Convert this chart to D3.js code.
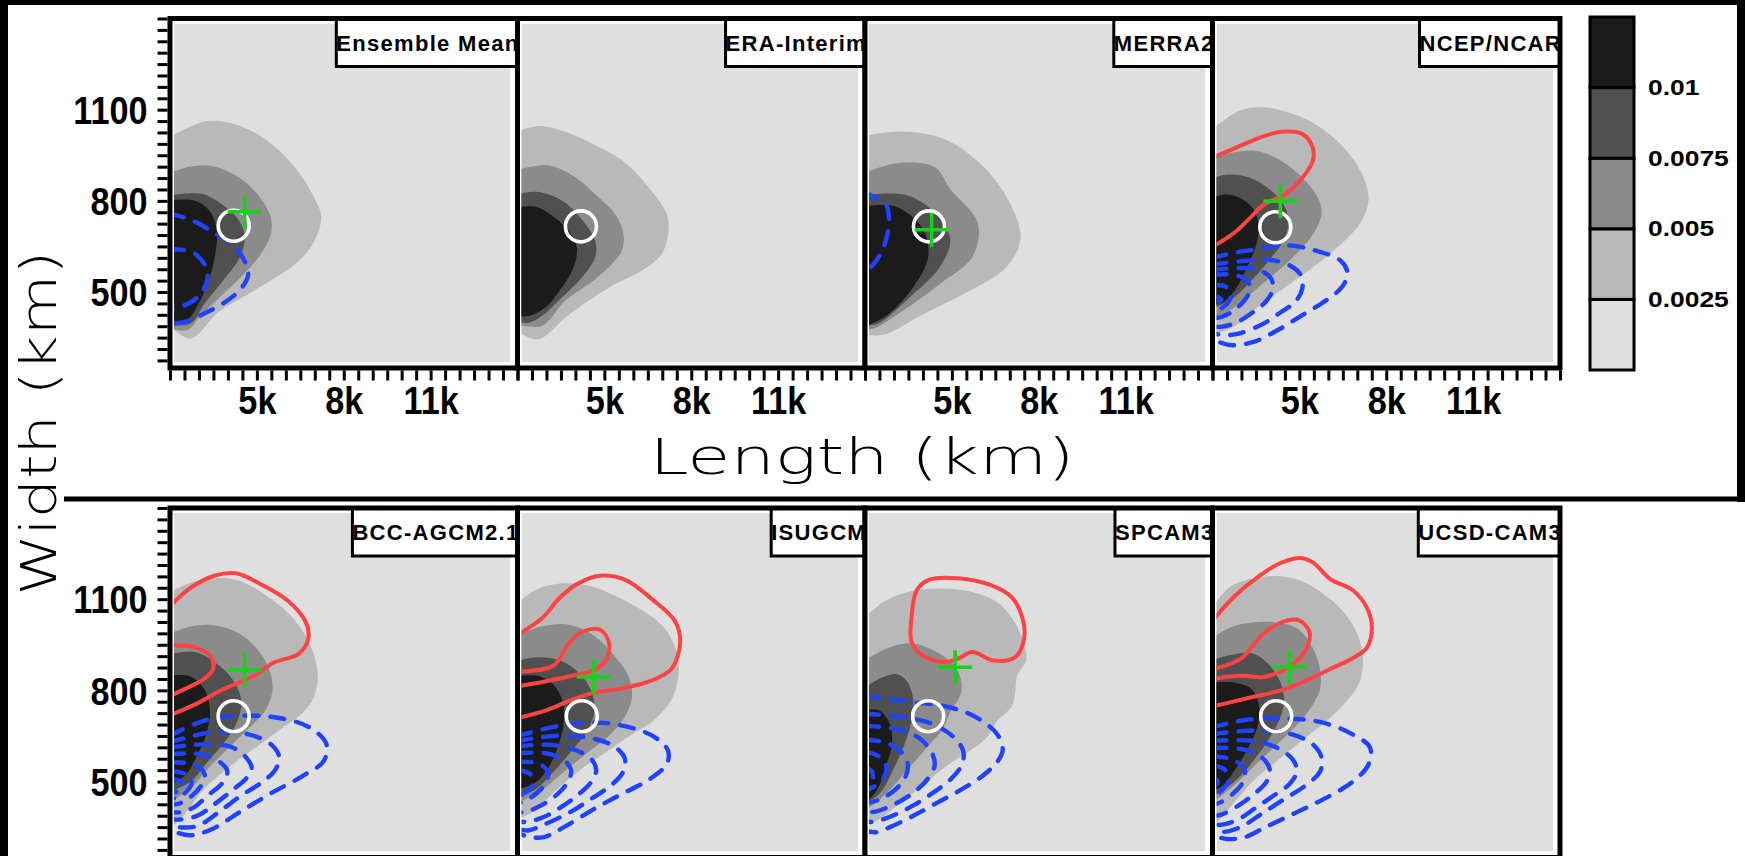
<!DOCTYPE html>
<html><head><meta charset="utf-8">
<script src="https://cdn.jsdelivr.net/npm/d3@7"></script>
<style>
html,body{margin:0;padding:0;background:#fff;}
svg{display:block;}
</style></head><body>
<svg id="fig" width="1745" height="856"></svg>
<script>
// ---------- axes, levels, names ----------
const lengthDomain = [2000, 14000];          // km
const widthDomain = [250, 1400];             // km
const lengthTickLabels = [5000, 8000, 11000];
const widthTickLabels = [500, 800, 1100];
const shadeLevels = [0.0025, 0.005, 0.0075, 0.01];
const shadeColors = ["#dfdfdf", "#b9b9b9", "#8b8b8b", "#505050", "#1b1b1b"];
const panelNames = ["Ensemble Mean", "ERA-Interim", "MERRA2", "NCEP/NCAR",
                    "BCC-AGCM2.1", "ISUGCM", "SPCAM3", "UCSD-CAM3"];

// ---------- Ensemble Mean ----------
const ensembleShade = [
  [[2000,1009],[3200,1061],[4220,1053],[5360,998],[6320,909],[6920,821],[7220,749],[6980,667],[6440,601],[5600,545],[4640,490],[3680,435],[2720,347],[2000,386]],
  [[2000,893],[2720,913],[3440,915],[4400,876],[5120,810],[5480,744],[5480,689],[5120,623],[4520,557],[3800,490],[3080,424],[2600,375],[2000,380]],
  [[2000,818],[3080,823],[3800,788],[4400,733],[4580,678],[4400,612],[3800,534],[3200,463],[2720,397],[2000,391]],
  [[2000,801],[2840,801],[3380,766],[3620,700],[3560,623],[3320,534],[2960,457],[2540,402],[2000,389]]
];
const ensemblePositive = [];
const ensembleNegative = [
  [[2000,757],[2720,738],[3440,700],[4160,656],[4580,601],[4700,557],[4460,512],[3920,468],[3200,430],[2540,402],[2000,397]],
  [[2000,639],[2720,634],[3200,590],[3296,545],[3080,496],[2660,463],[2000,441]]
];

// ---------- ERA-Interim ----------
const eraShade = [
  [[2000,1027],[2725,1046],[3645,1027],[4566,989],[5601,934],[6521,845],[7154,757],[7212,702],[6982,625],[6291,570],[5371,526],[4451,471],[3645,415],[2725,344],[2000,371]],
  [[2000,901],[3070,917],[3990,878],[4796,812],[5371,757],[5659,691],[5601,636],[5141,581],[4451,526],[3645,471],[2840,388],[2000,393]],
  [[2000,823],[2725,829],[3530,801],[4105,752],[4681,669],[4681,614],[4220,548],[3530,482],[2840,421],[2380,399],[2000,402]],
  [[2000,779],[2610,781],[3185,752],[3760,702],[4048,647],[3933,581],[3530,515],[2955,448],[2380,421],[2000,421]]
];
const eraPositive = [];
const eraNegative = [];

// ---------- MERRA2 ----------
const merraShade = [
  [[2000,1014],[3224,1028],[4758,1003],[6103,911],[7058,782],[7368,673],[6862,580],[5519,499],[3990,426],[2645,359],[2000,359]],
  [[2000,893],[3200,925],[4407,911],[4948,838],[5896,727],[5717,617],[4565,525],[3224,433],[2262,379],[2000,379]],
  [[2000,819],[3414,819],[4372,764],[4948,673],[4565,580],[3607,488],[2448,396],[2000,390]],
  [[2000,782],[3031,782],[3990,709],[4183,617],[3607,508],[2645,415],[2000,389]]
];
const merraPositive = [];
const merraNegative = [
  [[2000,830],[2200,818],[2700,791],[2830,736],[2650,650],[2250,587],[2000,575]]
];

// ---------- NCEP/NCAR ----------
const ncepShade = [
  [[2000,1036],[2938,1097],[3719,1108],[4620,1091],[5462,1058],[6303,998],[6904,931],[7265,865],[7385,799],[7145,733],[6544,667],[5582,590],[4620,523],[3659,457],[2817,391],[2000,358]],
  [[2000,942],[2697,959],[3539,964],[4380,931],[5101,876],[5642,810],[5762,755],[5462,689],[4981,634],[4380,579],[3539,512],[2697,446],[2000,413]],
  [[2000,876],[2577,887],[3298,876],[3899,843],[4380,799],[4620,744],[4500,678],[4019,612],[3418,545],[2697,479],[2000,446]],
  [[2000,810],[2457,821],[2938,810],[3418,772],[3599,711],[3478,645],[3178,579],[2817,512],[2397,468],[2000,457]]
];
const ncepPositive = [
  [[2000,942],[2697,970],[3659,1009],[4380,1027],[5101,1020],[5462,975],[5462,931],[5101,876],[4500,821],[3779,788],[3298,744],[2817,700],[2216,661],[2000,650]]
];
const ncepNegative = [
  [[2000,612],[2697,628],[3418,639],[4500,654],[5582,636],[6423,603],[6664,562],[6484,518],[5943,474],[5101,424],[4260,375],[3418,336],[2697,325],[2216,336],[2000,347]],
  [[2000,590],[2938,601],[3899,606],[4620,590],[5041,557],[5101,512],[4861,468],[4380,435],[3779,397],[2938,364],[2457,358],[2000,364]],
  [[2000,573],[2938,579],[3599,573],[4019,545],[4079,507],[3839,468],[3418,435],[2877,402],[2337,386],[2000,386]],
  [[2000,557],[2697,557],[3178,540],[3298,507],[3118,474],[2757,441],[2337,419],[2000,413]],
  [[2000,523],[2457,518],[2637,490],[2517,463],[2216,441],[2000,435]],
  [[2000,490],[2313,476],[2000,459]]
];

// ---------- BCC-AGCM2.1 ----------
const bccShade = [
  [[2000,1122],[2720,1155],[3680,1170],[4400,1161],[5360,1110],[6200,1043],[6800,959],[7100,858],[6980,780],[6560,724],[5840,674],[5120,623],[4160,556],[3200,478],[2400,380],[2000,345]],
  [[2000,987],[2720,1010],[3440,1015],[4280,993],[5000,937],[5420,870],[5540,802],[5300,735],[4760,679],[4160,623],[3440,556],[2720,478],[2000,433]],
  [[2000,920],[2840,926],[3560,892],[4160,836],[4460,769],[4340,702],[3920,634],[3320,567],[2720,500],[2000,466]],
  [[2000,849],[2720,845],[3200,802],[3380,735],[3260,657],[2960,590],[2540,522],[2000,489]]
];
const bccPositive = [
  [[2000,1077],[2720,1138],[3560,1178],[4280,1185],[5120,1150],[6080,1094],[6680,1026],[6776,970],[6440,920],[5600,892],[4880,847],[3800,802],[2960,758],[2000,718]],
  [[2000,948],[2840,942],[3380,914],[3500,875],[3200,839],[2720,814],[2000,782]]
];
const bccNegative = [
  [[2000,651],[2960,693],[3680,711],[5480,713],[6800,679],[7400,623],[7304,567],[6560,517],[5480,461],[4400,399],[3440,343],[2720,323],[2240,332],[2000,343]],
  [[2000,629],[3440,662],[4640,657],[5480,623],[5780,578],[5600,534],[5120,494],[4400,450],[3680,399],[2960,354],[2360,349],[2000,354]],
  [[2000,612],[3320,623],[4160,612],[4640,578],[4820,545],[4640,511],[4160,472],[3560,427],[2960,388],[2360,375],[2000,377]],
  [[2000,590],[3080,590],[3680,567],[3980,534],[3800,494],[3320,455],[2840,416],[2360,399],[2000,399]],
  [[2000,562],[2840,556],[3200,522],[3080,487],[2720,450],[2300,427],[2000,424]],
  [[2000,534],[2600,522],[2744,494],[2540,464],[2240,446],[2000,444]],
  [[2000,511],[2420,497],[2384,472],[2000,464]]
];

// ---------- ISUGCM ----------
const isuShade = [
  [[2000,1085],[2618,1130],[3606,1152],[4594,1141],[5458,1107],[6323,1062],[7064,1006],[7496,926],[7558,847],[7311,768],[6693,700],[5952,655],[5088,599],[4223,542],[3359,474],[2618,407],[2000,373]],
  [[2000,983],[2865,1011],[3729,1017],[4594,983],[5335,915],[5829,847],[5952,779],[5705,712],[5211,655],[4470,599],[3729,542],[2865,474],[2000,429]],
  [[2000,898],[2741,909],[3482,898],[4100,859],[4532,802],[4655,734],[4408,667],[3853,599],[3235,531],[2618,474],[2000,452]],
  [[2000,847],[2741,847],[3235,819],[3544,768],[3606,700],[3420,621],[3112,553],[2618,497],[2000,474]]
];
const isuPositive = [
  [[2000,983],[2865,1039],[3482,1107],[4100,1152],[4841,1177],[5705,1164],[6693,1096],[7434,1028],[7619,960],[7311,870],[6570,830],[5458,804],[4594,791],[3853,768],[2988,734],[2000,709]],
  [[2000,861],[3235,881],[3729,949],[4223,992],[4841,1000],[5149,960],[5088,904],[4717,870],[3853,847],[2988,830],[2000,813]]
];
const isuNegative = [
  [[2000,650],[3606,686],[5088,692],[6570,655],[7187,604],[7162,559],[6570,508],[5458,452],[4594,407],[3606,350],[2865,316],[2247,322],[2000,333]],
  [[2000,633],[3235,650],[4470,644],[5335,616],[5705,576],[5643,531],[5211,486],[4594,446],[3853,401],[2865,356],[2371,339],[2000,344]],
  [[2000,616],[3112,621],[3976,604],[4532,576],[4717,537],[4532,497],[4100,457],[3544,418],[2926,384],[2309,367],[2000,370]],
  [[2000,593],[2988,593],[3606,570],[3853,537],[3729,497],[3359,457],[2865,424],[2309,401],[2000,398]],
  [[2000,565],[2741,559],[3050,531],[2988,497],[2680,463],[2247,435],[2000,429]],
  [[2000,537],[2433,525],[2556,497],[2371,469],[2000,452]]
];

// ---------- SPCAM3 ----------
const spcamShade = [
  [[2000,1039],[2618,1090],[3482,1124],[4594,1135],[5705,1124],[6570,1090],[7064,1039],[7434,972],[7558,898],[7249,847],[7187,791],[7064,746],[6570,700],[6199,644],[5582,599],[4841,553],[4100,497],[3359,440],[2618,384],[2000,350]],
  [[2000,898],[2741,938],[3606,955],[4470,926],[5088,881],[5335,825],[5273,779],[4964,734],[4717,678],[4223,621],[3606,554],[2988,486],[2371,429],[2000,407]],
  [[2000,808],[2494,838],[3112,853],[3482,825],[3667,768],[3606,700],[3359,621],[2988,542],[2618,474],[2247,440],[2000,429]],
  [[2000,734],[2494,734],[2865,689],[2926,621],[2741,554],[2494,486],[2185,446],[2000,441]]
];
const spcamPositive = [
  [[3606,1039],[3791,1130],[4223,1164],[5211,1169],[6323,1147],[7064,1107],[7434,1039],[7496,972],[7187,909],[6446,898],[5705,926],[5211,904],[4717,893],[3976,915],[3606,960]]
];
const spcamNegative = [
  [[2000,782],[3482,763],[4841,746],[5829,712],[6570,655],[6755,604],[6570,565],[6076,520],[5335,474],[4470,429],[3606,384],[2865,350],[2371,333],[2000,339]],
  [[2000,723],[3359,712],[4347,689],[5088,644],[5397,599],[5335,554],[4964,508],[4347,463],[3606,418],[2865,384],[2247,367],[2000,370]],
  [[2000,683],[3112,672],[3853,644],[4285,599],[4408,554],[4161,508],[3667,463],[2988,424],[2371,401],[2000,401]],
  [[2000,638],[2741,627],[3235,599],[3482,554],[3359,508],[2988,469],[2494,440],[2000,429]],
  [[2000,599],[2494,582],[2741,548],[2618,508],[2247,480],[2000,469]],
  [[2000,548],[2247,531],[2247,503],[2000,491]]
];

// ---------- UCSD-CAM3 ----------
const ucsdShade = [
  [[2000,1074],[2619,1142],[3484,1170],[4227,1176],[5093,1159],[5958,1108],[6577,1052],[7010,984],[7195,905],[7072,826],[6577,758],[5958,701],[5216,645],[4350,577],[3484,509],[2742,430],[2124,362],[2000,351]],
  [[2000,973],[2619,1007],[3361,1023],[4227,1023],[4969,1001],[5464,939],[5711,871],[5711,803],[5340,735],[4845,679],[4227,622],[3484,555],[2742,487],[2000,430]],
  [[2000,899],[2619,916],[3361,922],[3979,882],[4350,826],[4474,769],[4350,713],[3979,645],[3484,577],[2866,509],[2247,464],[2000,453]],
  [[2000,826],[2742,826],[3361,803],[3608,747],[3546,679],[3237,611],[2804,543],[2371,487],[2000,470]]
];
const ucsdPositive = [
  [[2000,1029],[2742,1108],[3608,1176],[4350,1219],[5093,1235],[5464,1221],[6082,1165],[6824,1131],[7319,1074],[7505,1007],[7319,939],[6824,905],[6082,871],[5340,837],[4474,803],[3237,775],[2495,758],[2000,747]],
  [[2000,869],[2990,905],[3732,984],[4474,1027],[4969,1031],[5340,995],[5278,944],[4845,891],[4350,862],[3732,843],[3113,848],[2495,845],[2000,837]]
];
const ucsdNegative = [
  [[2000,679],[3237,704],[4474,707],[5711,696],[6824,656],[7443,611],[7381,555],[6824,498],[5835,442],[4845,396],[3856,351],[3113,317],[2495,311],[2000,323]],
  [[2000,656],[3484,668],[4721,656],[5464,622],[5773,577],[5711,532],[5216,487],[4474,442],[3732,396],[2990,351],[2371,334],[2000,340]],
  [[2000,634],[3361,634],[4227,611],[4783,571],[4907,532],[4660,492],[4103,453],[3484,413],[2866,374],[2247,357],[2000,360]],
  [[2000,611],[3113,605],[3732,577],[3979,538],[3856,498],[3423,458],[2866,419],[2309,391],[2000,387]],
  [[2000,583],[2742,571],[3113,537],[3051,498],[2680,458],[2247,430],[2000,425]],
  [[2000,555],[2433,538],[2557,504],[2309,470],[2000,453]],
  [[2000,521],[2185,498],[2000,481]]
];

// observed centroid (white circle) and model centroid (green cross), [length, width] km
const observedCentroids = [[4200,718],[4190,716],[4210,716],[4170,713],[4196,715],[4220,715],[4180,715],[4200,715]];
const modelCentroids = [[4580,764], null, [4300,705], [4344,799], [4580,867], [4631,844], [5112,876], [4660,877]];

const panels = panelNames.map((name, i) => ({
  name,
  shade: [ensembleShade, eraShade, merraShade, ncepShade, bccShade, isuShade, spcamShade, ucsdShade][i],
  positive: [ensemblePositive, eraPositive, merraPositive, ncepPositive, bccPositive, isuPositive, spcamPositive, ucsdPositive][i],
  negative: [ensembleNegative, eraNegative, merraNegative, ncepNegative, bccNegative, isuNegative, spcamNegative, ucsdNegative][i],
  obs: observedCentroids[i],
  model: modelCentroids[i]
}));

// ---------- layout ----------
const W = 1745, H = 856;
const PANEL_LEFT = 170, PANEL_W = 347.5, PANEL_H = 349.5;
const ROW_TOP = [18.5, 508];
const TICK_FONT = "'Liberation Sans', Arial, sans-serif";

const svg = d3.select("#fig");
const defs = svg.append("defs");

// outer black margins and row separator
svg.append("rect").attr("x", 0).attr("y", 0).attr("width", W).attr("height", 5).attr("fill", "#000");
svg.append("rect").attr("x", 0).attr("y", 0).attr("width", 8).attr("height", H).attr("fill", "#000");
svg.append("rect").attr("x", W - 8).attr("y", 0).attr("width", 8).attr("height", 502).attr("fill", "#000");
svg.append("rect").attr("x", 64).attr("y", 496.5).attr("width", W - 64).attr("height", 5).attr("fill", "#000");

function squeeze(sel, factor) {
  sel.each(function () {
    const len = this.getComputedTextLength();
    d3.select(this).attr("textLength", len * factor).attr("lengthAdjust", "spacingAndGlyphs");
  });
}

const widthTicks = d3.range(widthDomain[1], widthDomain[0], -37.5);
const lengthTicks = d3.range(lengthDomain[0], lengthDomain[1] + 1, 500);

const openCurve = d3.curveCatmullRom.alpha(0.5);
const closedCurve = d3.curveCatmullRomClosed.alpha(0.5);

panels.forEach((p, i) => {
  const col = i % 4, row = Math.floor(i / 4);
  const bx = PANEL_LEFT + col * PANEL_W, by = ROW_TOP[row];
  const x = d3.scaleLinear().domain(lengthDomain).range([bx, bx + PANEL_W]);
  const y = d3.scaleLinear().domain(widthDomain).range([by + PANEL_H, by]);
  const g = svg.append("g");

  g.append("rect").attr("x", bx).attr("y", by).attr("width", PANEL_W).attr("height", PANEL_H).attr("fill", "#fff");

  const inner = { x: bx + 4, y: by + 5, w: PANEL_W - 11, h: PANEL_H - 11 };
  defs.append("clipPath").attr("id", "plot" + i).append("rect")
    .attr("x", inner.x).attr("y", inner.y).attr("width", inner.w).attr("height", inner.h);
  const plot = g.append("g").attr("clip-path", `url(#plot${i})`);
  plot.append("rect").attr("x", inner.x).attr("y", inner.y).attr("width", inner.w).attr("height", inner.h)
    .attr("fill", shadeColors[0]);

  // shaded density levels
  const shapeGen = d3.line().x(d => x(d[0])).y(d => y(d[1])).curve(openCurve);
  p.shade.forEach((poly, k) => {
    plot.append("path").attr("d", shapeGen(poly) + "Z").attr("fill", shadeColors[k + 1]);
  });

  // difference contours
  const loopGen = d3.line().x(d => x(d[0])).y(d => y(d[1])).curve(closedCurve);
  const lineFor = c => (c[0][0] > lengthDomain[0] ? loopGen : shapeGen)(c);
  p.positive.forEach(c => {
    plot.append("path").attr("d", lineFor(c)).attr("fill", "none")
      .attr("stroke", "#ff4343").attr("stroke-width", 4).attr("stroke-linejoin", "round");
  });
  p.negative.forEach(c => {
    plot.append("path").attr("d", lineFor(c)).attr("fill", "none")
      .attr("stroke", "#1f43ff").attr("stroke-width", 4.4).attr("stroke-linecap", "round")
      .attr("stroke-dasharray", "14 12");
  });

  // centroids
  plot.append("circle").attr("cx", x(p.obs[0])).attr("cy", y(p.obs[1])).attr("r", 15.5)
    .attr("fill", "none").attr("stroke", "#fff").attr("stroke-width", 3.6);
  if (p.model) {
    const mx = x(p.model[0]), my = y(p.model[1]), arm = 17;
    plot.append("path").attr("d", `M${mx - arm},${my}H${mx + arm}M${mx},${my - arm}V${my + arm}`)
      .attr("stroke", "#19d119").attr("stroke-width", 3.6).attr("fill", "none");
  }

  // name box in the upper right corner
  const label = g.append("text").attr("font-family", TICK_FONT).attr("font-weight", "bold")
    .attr("font-size", 22).attr("letter-spacing", 1.3).attr("text-anchor", "middle")
    .text(p.name);
  const tw = label.node().getComputedTextLength();
  const boxW = tw - 2, boxH = 48;
  const boxX = bx + PANEL_W - boxW;
  defs.append("clipPath").attr("id", "name" + i).append("rect")
    .attr("x", boxX).attr("y", by).attr("width", boxW).attr("height", boxH);
  g.insert("rect", "text").attr("x", boxX).attr("y", by).attr("width", boxW).attr("height", boxH).attr("fill", "#fff");
  label.attr("x", boxX + boxW / 2 + 1).attr("y", by + boxH / 2 + 8).attr("clip-path", `url(#name${i})`);
  g.append("rect").attr("x", boxX).attr("y", by).attr("width", boxW).attr("height", boxH)
    .attr("fill", "none").attr("stroke", "#000").attr("stroke-width", 3);

  // panel frame
  g.append("rect").attr("x", bx).attr("y", by).attr("width", PANEL_W).attr("height", PANEL_H)
    .attr("fill", "none").attr("stroke", "#000").attr("stroke-width", 5);

  // width axis on the first column
  if (col === 0) {
    const ax = svg.append("g").attr("transform", `translate(${bx - 2.5},0)`)
      .call(d3.axisLeft(y).tickValues(widthTicks).tickSize(10).tickFormat(""));
    ax.select(".domain").remove();
    ax.selectAll("line").attr("stroke", "#000").attr("stroke-width", 3);
    const lab = svg.append("g").attr("transform", `translate(${bx - 2.5},0)`)
      .call(d3.axisLeft(y).tickValues(widthTickLabels).tickSize(0).tickPadding(20).tickFormat(d => String(d)));
    lab.select(".domain").remove();
    lab.selectAll("text").attr("font-family", TICK_FONT).attr("font-weight", "bold")
      .attr("font-size", 38).attr("fill", "#000").attr("dy", "0.36em");
    squeeze(lab.selectAll("text"), 0.9);
  }
  // length axis under the top row
  if (row === 0) {
    const ax = svg.append("g").attr("transform", `translate(0,${by + PANEL_H + 2.5})`)
      .call(d3.axisBottom(x).tickValues(lengthTicks).tickSize(10).tickFormat(""));
    ax.select(".domain").remove();
    ax.selectAll("line").attr("stroke", "#000").attr("stroke-width", 3);
    const lab = svg.append("g").attr("transform", `translate(0,${by + PANEL_H + 2.5})`)
      .call(d3.axisBottom(x).tickValues(lengthTickLabels).tickSize(0).tickPadding(17)
        .tickFormat(d => d / 1000 + "k"));
    lab.select(".domain").remove();
    lab.selectAll("text").attr("font-family", TICK_FONT).attr("font-weight", "bold")
      .attr("font-size", 38).attr("fill", "#000");
    squeeze(lab.selectAll("text"), 0.9);
  }
});

// ---------- colour bar ----------
const cbY = d3.scaleLinear().domain([0, 0.0125]).range([370, 17]);
const cbBounds = [0].concat(shadeLevels, [0.0125]);
const cb = svg.append("g");
shadeColors.forEach((c, k) => {
  cb.append("rect").attr("x", 1590).attr("y", cbY(cbBounds[k + 1])).attr("width", 44)
    .attr("height", cbY(cbBounds[k]) - cbY(cbBounds[k + 1]))
    .attr("fill", c).attr("stroke", "#000").attr("stroke-width", 3);
});
const cbAxis = svg.append("g").attr("transform", "translate(1634,0)")
  .call(d3.axisRight(cbY).tickValues(shadeLevels).tickSize(0).tickPadding(14).tickFormat(d => String(d)));
cbAxis.select(".domain").remove();
cbAxis.selectAll("text").attr("font-family", TICK_FONT).attr("font-weight", "bold")
  .attr("font-size", 22).attr("fill", "#000");
squeeze(cbAxis.selectAll("text"), 1.2);

// ---------- axis titles ----------
svg.append("text").attr("x", 862).attr("y", 474).attr("text-anchor", "middle")
  .attr("font-family", "'DejaVu Sans', sans-serif").attr("font-weight", 200).attr("font-size", 50)
  .attr("textLength", 425).attr("lengthAdjust", "spacingAndGlyphs").text("Length (km)");
svg.append("text").attr("transform", "translate(56,423) rotate(-90)").attr("text-anchor", "middle")
  .attr("font-family", "'DejaVu Sans', sans-serif").attr("font-weight", 200).attr("font-size", 50)
  .attr("textLength", 345).attr("lengthAdjust", "spacingAndGlyphs").text("Width (km)");
</script></body></html>
